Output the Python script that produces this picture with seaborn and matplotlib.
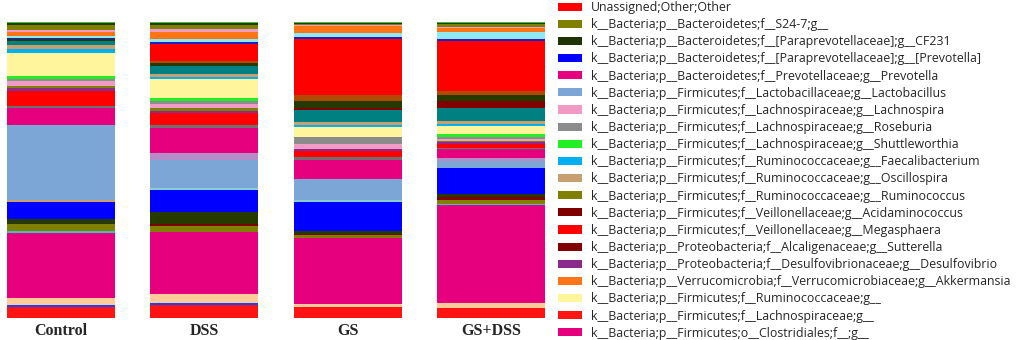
import numpy as np
import pandas as pd
import matplotlib
matplotlib.use('Agg')
import matplotlib.pyplot as plt
from matplotlib.patches import Patch
import seaborn as sns

# 샘플(막대) 이름
samples = ['Control', 'DSS', 'GS', 'GS+DSS']

# 누적 막대의 층 색상 (아래 -> 위 순서)
seg_colors = [
    '#ff1414', '#2040ff', '#ffcc99', '#e6007e', '#40c0c0', '#808000',
    '#800000', '#263a00', '#0000ff', '#c8a070', '#88d0d0', '#7ba6d6',
    '#b48cc8', '#e6007e', '#707070', '#ff0000', '#8b2a8b', '#808000',
    '#f29ac6', '#8c8c8c', '#22ee22', '#fff59d', '#00b0f0', '#c8a070',
    '#008080', '#800000', '#263a00', '#b04a00', '#ff0000', '#2020c0',
    '#90e8f0', '#ff7417', '#f29ac6', '#808000', '#263a00', '#40c040',
]

# 각 샘플의 상대 풍부도 (그림에서 읽은 값, 아래 -> 위)
control = [32, 5, 23, 190, 4, 20, 0, 16, 50, 7, 0, 218,
           0, 50, 6, 44, 8, 6, 14, 7, 8, 68, 12, 12,
           12, 0, 4, 0, 0, 3, 6, 14, 6, 12, 8, 2]
dss = [38, 7, 25, 180, 0, 18, 6, 34, 63, 0, 7, 83,
       20, 73, 7, 35, 7, 7, 13, 8, 8, 57, 4, 10,
       23, 0, 10, 4, 51, 5, 8, 20, 10, 12, 6, 2]
gs = [32, 0, 10, 196, 0, 10, 3, 9, 87, 0, 6, 62,
      0, 58, 7, 20, 6, 0, 14, 22, 0, 28, 7, 8,
      37, 5, 21, 19, 165, 8, 10, 22, 3, 4, 3, 2]
gs_dss = [30, 0, 14, 296, 4, 10, 10, 8, 78, 0, 0, 22,
          8, 28, 4, 12, 4, 3, 8, 4, 10, 25, 5, 10,
          37, 22, 20, 12, 149, 7, 20, 12, 4, 8, 4, 2]

# 범례 항목
legend_labels = [
    'Unassigned;Other;Other',
    'k__Bacteria;p__Bacteroidetes;f__S24-7;g__',
    'k__Bacteria;p__Bacteroidetes;f__[Paraprevotellaceae];g__CF231',
    'k__Bacteria;p__Bacteroidetes;f__[Paraprevotellaceae];g__[Prevotella]',
    'k__Bacteria;p__Bacteroidetes;f__Prevotellaceae;g__Prevotella',
    'k__Bacteria;p__Firmicutes;f__Lactobacillaceae;g__Lactobacillus',
    'k__Bacteria;p__Firmicutes;f__Lachnospiraceae;g__Lachnospira',
    'k__Bacteria;p__Firmicutes;f__Lachnospiraceae;g__Roseburia',
    'k__Bacteria;p__Firmicutes;f__Lachnospiraceae;g__Shuttleworthia',
    'k__Bacteria;p__Firmicutes;f__Ruminococcaceae;g__Faecalibacterium',
    'k__Bacteria;p__Firmicutes;f__Ruminococcaceae;g__Oscillospira',
    'k__Bacteria;p__Firmicutes;f__Ruminococcaceae;g__Ruminococcus',
    'k__Bacteria;p__Firmicutes;f__Veillonellaceae;g__Acidaminococcus',
    'k__Bacteria;p__Firmicutes;f__Veillonellaceae;g__Megasphaera',
    'k__Bacteria;p__Proteobacteria;f__Alcaligenaceae;g__Sutterella',
    'k__Bacteria;p__Proteobacteria;f__Desulfovibrionaceae;g__Desulfovibrio',
    'k__Bacteria;p__Verrucomicrobia;f__Verrucomicrobiaceae;g__Akkermansia',
    'k__Bacteria;p__Firmicutes;f__Ruminococcaceae;g__',
    'k__Bacteria;p__Firmicutes;f__Lachnospiraceae;g__',
    'k__Bacteria;p__Firmicutes;o__Clostridiales;f__;g__',
]
legend_colors = [
    '#ff0000', '#808000', '#1e3300', '#0000ff', '#e6007e', '#7ba6d6',
    '#f29ac6', '#8c8c8c', '#22ee22', '#00b0f0', '#c8a070', '#808000',
    '#800000', '#ff0000', '#800000', '#8b2a8b', '#ff7417', '#fff59d',
    '#ff1414', '#e6007e',
]

sns.set_style('white')
plt.rcParams['font.family'] = ['Open Sans', 'DejaVu Sans']

df = pd.DataFrame({'Control': control, 'DSS': dss, 'GS': gs, 'GS+DSS': gs_dss})
pct = df / df.sum() * 100
cum = pct.cumsum()

fig = plt.figure(figsize=(10.23, 3.40), dpi=100)
ax = fig.add_axes([7 / 1023, 22 / 340, 538 / 1023, 296 / 340])

# 위쪽 누적값부터 그려서 아래 층이 덮어쓰도록
for i in reversed(range(len(seg_colors))):
    sns.barplot(x=samples, y=cum.iloc[i][samples].values, color=seg_colors[i],
                saturation=1, width=0.75, errorbar=None, linewidth=0, ax=ax)

ax.set_xlim(-0.375, 3.375)
ax.set_ylim(0, 100)
ax.set_yticks([])
ax.set_xlabel('')
ax.set_ylabel('')
sns.despine(ax=ax, left=True, bottom=True)
ax.tick_params(axis='x', length=0, pad=3.5)
for lab in ax.get_xticklabels():
    lab.set_family(['Liberation Serif', 'DejaVu Serif'])
    lab.set_fontweight('bold')
    lab.set_fontsize(11.5)

handles = [Patch(facecolor=c, edgecolor='none') for c in legend_colors]
fig.legend(handles, legend_labels, loc='upper left',
           bbox_to_anchor=(558 / 1023, 1 - 1 / 340),
           frameon=False, fontsize=8.9, handlelength=1.95, handleheight=0.65,
           handletextpad=0.75, labelspacing=0.335, borderaxespad=0, borderpad=0)

fig.savefig('out.png', dpi=100)
